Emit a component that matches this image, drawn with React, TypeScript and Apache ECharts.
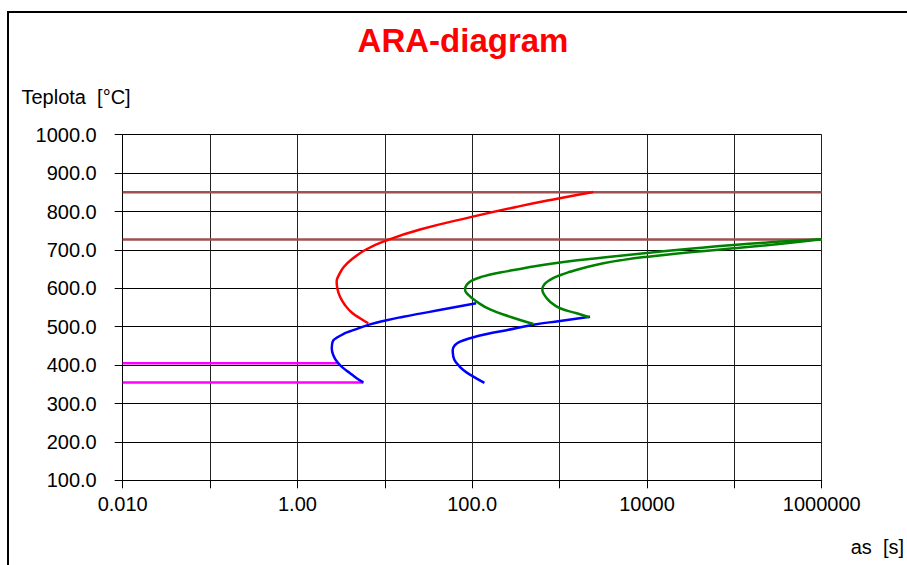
import React, { useEffect, useRef } from "react";
import * as echarts from "echarts";

// Tick labels
const xTickLabels = ["0.010", "", "1.00", "", "100.0", "", "10000", "", "1000000"];

// Horizontal reference lines (time [s], temperature [°C])
const ac3Line: [number, number][] = [[0.01, 850], [1000000, 850]];
const ac1Line: [number, number][] = [[0.01, 727], [1000000, 727]];
const msLine: [number, number][] = [[0.01, 405], [2.94, 405]];
const mfLine: [number, number][] = [[0.01, 355], [5.68, 355]];

// Ferrite start (red)
const redCurve: [number, number][] = [
  [6.47, 509], [5.2, 522], [4.18, 537], [3.51, 556], [3.07, 578], [2.86, 600],
  [2.81, 617], [2.99, 635], [3.41, 656], [4.33, 678], [6.1, 701], [10.0, 723],
  [25.3, 753], [98.6, 786], [352, 814], [968, 834], [2430, 851],
];

// Bainite curves (blue)
const blueCurve1: [number, number][] = [
  [5.68, 355], [4.76, 366], [4.0, 379], [3.35, 392], [2.94, 405], [2.62, 422],
  [2.47, 444], [2.53, 461], [2.81, 471], [3.5, 483], [4.36, 491], [6.76, 506],
  [10.5, 517], [16.3, 526], [25.3, 534], [39.3, 542], [111, 561],
];
const blueCurve2: [number, number][] = [
  [138, 354], [103, 370], [79.1, 387], [66.5, 405], [60.8, 422], [59.8, 439],
  [63.5, 452], [72.6, 461], [94.4, 470], [147, 481], [248, 491], [501, 505],
  [1012, 515], [2234, 526],
];

// Pearlite curves (green)
const greenCurve1: [number, number][] = [
  [501, 507], [271, 526], [160, 545], [113, 565], [90.4, 583], [82.8, 596],
  [86.5, 609], [98.6, 620], [134, 631], [208, 641], [324, 649], [547, 658],
  [1012, 667], [3170, 680], [9954, 692], [31100, 703], [97500, 713], [305000, 721],
  [1000000, 728],
];
const greenCurve2: [number, number][] = [
  [2193, 524.5], [1570, 535], [1012, 548], [778, 565], [670, 583], [635, 596],
  [664, 609], [778, 622], [1012, 634], [1318, 643], [1871, 653], [3170, 665],
  [5370, 674], [9954, 682], [31100, 694], [97500, 704], [305000, 715], [1000000, 728],
];

const FONT = "'Liberation Sans', Arial, sans-serif";

function lineSeries(data: [number, number][], color: string, width: number, smooth: number | boolean) {
  return {
    type: "line",
    data,
    smooth,
    showSymbol: false,
    symbol: "none",
    lineStyle: { color, width },
    silent: true,
  };
}

export default function App() {
  const ref = useRef<HTMLDivElement>(null);
  useEffect(() => {
    if (!ref.current) return;
    const chart = echarts.init(ref.current, null, { renderer: "svg" });
    chart.setOption({
      animation: false,
      backgroundColor: "#ffffff",
      grid: { left: 122.7, right: 85.3, top: 134.7, bottom: 84.7, containLabel: false },
      xAxis: {
        type: "log",
        logBase: 10,
        min: 0.01,
        max: 1000000,
        interval: 1,
        axisLine: { show: true, lineStyle: { color: "#000", width: 1 } },
        axisTick: { show: true, length: 8, inside: false, lineStyle: { color: "#000", width: 1 } },
        splitLine: { show: true, lineStyle: { color: "#222", width: 1 } },
        axisLabel: {
          color: "#000",
          fontFamily: FONT,
          fontSize: 20,
          margin: 14,
          formatter: (v: number) => {
            const i = Math.round(Math.log10(v)) + 2;
            return xTickLabels[i] ?? "";
          },
        },
      },
      yAxis: {
        type: "value",
        min: 100,
        max: 1000,
        interval: 100,
        axisLine: { show: true, lineStyle: { color: "#000", width: 1 } },
        axisTick: { show: true, length: 8, inside: false, lineStyle: { color: "#000", width: 1 } },
        splitLine: { show: true, lineStyle: { color: "#000", width: 1 } },
        axisLabel: {
          color: "#000",
          fontFamily: FONT,
          fontSize: 20,
          margin: 26,
          formatter: (v: number) => v.toFixed(1),
        },
      },
      series: [
        lineSeries(ac3Line, "#A05050", 2.5, false),
        lineSeries(ac1Line, "#A05050", 2.5, false),
        lineSeries(msLine, "#FF00FF", 2.5, false),
        lineSeries(mfLine, "#FF00FF", 2.5, false),
        lineSeries(redCurve, "#FF0000", 2.5, 0.5),
        lineSeries(blueCurve1, "#0000FF", 2.5, 0.5),
        lineSeries(blueCurve2, "#0000FF", 2.5, 0.5),
        lineSeries(greenCurve1, "#008000", 2.5, 0.5),
        lineSeries(greenCurve2, "#008000", 2.5, 0.5),
      ],
      graphic: [
        {
          type: "polyline",
          shape: { points: [[8, 566], [8, 12], [908, 12]] },
          style: { stroke: "#000", lineWidth: 2, fill: null },
          silent: true,
        },
        {
          type: "text",
          x: 463,
          y: 40,
          style: {
            text: "ARA-diagram",
            fill: "#FF0000",
            font: `bold 33px ${FONT}`,
            textAlign: "center",
            textVerticalAlign: "middle",
          },
        },
        {
          type: "text",
          x: 21.5,
          y: 97,
          style: {
            text: "Teplota  [°C]",
            fill: "#000",
            font: `20px ${FONT}`,
            textAlign: "left",
            textVerticalAlign: "middle",
          },
        },
        {
          type: "text",
          x: 904,
          y: 547,
          style: {
            text: "as  [s]",
            fill: "#000",
            font: `20px ${FONT}`,
            textAlign: "right",
            textVerticalAlign: "middle",
          },
        },
      ],
    });
    return () => chart.dispose();
  }, []);
  return (
    <div
      ref={ref}
      style={{ position: "fixed", left: 0, top: 0, width: 907, height: 565, background: "#fff" }}
    />
  );
}
